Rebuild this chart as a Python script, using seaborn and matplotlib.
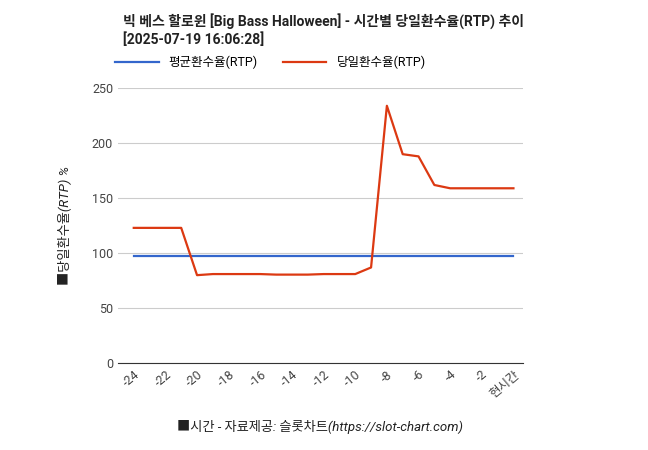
import matplotlib
matplotlib.use("Agg")
import matplotlib.pyplot as plt
import seaborn as sns
import pandas as pd

hours = list(range(-24, 1))
avg_rtp = [97] * 25
daily_rtp = [123, 123, 123, 123, 80, 81, 81, 81, 81, 80.5, 80.5, 80.5, 81, 81, 81, 87, 234, 190, 188, 162, 159, 159, 159, 159, 159]
xticks = [-24, -22, -20, -18, -16, -14, -12, -10, -8, -6, -4, -2, 0]
xlabels = ["-24", "-22", "-20", "-18", "-16", "-14", "-12", "-10", "-8", "-6", "-4", "-2", "현시간"]

plt.rcParams["font.family"] = ["Roboto", "Noto Sans CJK KR"]
df = pd.DataFrame({"h": hours, "avg": avg_rtp, "day": daily_rtp})
fig = plt.figure(figsize=(6.48, 4.5), dpi=100)
ax = fig.add_axes([0.182, 0.193, 0.625, 0.611])
sns.lineplot(data=df, x="h", y="avg", ax=ax, color="#3366cc", lw=1.6, label="평균환수율(RTP)")
sns.lineplot(data=df, x="h", y="day", ax=ax, color="#dc3912", lw=1.6, label="당일환수율(RTP)")
ax.set_ylim(0, 250)
ax.set_xlim(-25, 0.6)
ax.set_yticks(range(0, 251, 50))
ax.set_xticks(xticks)
ax.set_xticklabels(xlabels, rotation=40, ha="right", rotation_mode="anchor")
ax.grid(axis="y", color="#cccccc", lw=0.8)
for s in ["top", "right", "left"]:
    ax.spines[s].set_visible(False)
ax.spines["bottom"].set_color("#333333")
ax.tick_params(length=0, labelsize=9, colors="#444444")
ax.set_xlabel("■시간 - 자료제공: 슬롯차트(https://slot-chart.com)", style="italic", fontsize=9.5, color="#222222", labelpad=14)
ax.set_ylabel("■당일환수율(RTP) %", style="italic", fontsize=9.5, color="#222222", labelpad=14)
fig.text(0.19, 0.895, "빅 베스 할로윈 [Big Bass Halloween] - 시간별 당일환수율(RTP) 추이\n[2025-07-19 16:06:28]",
         fontsize=10, fontweight="bold", ha="left", va="bottom", color="#222222", linespacing=1.3)
ax.legend(loc="lower left", bbox_to_anchor=(-0.02, 1.05), ncol=2, frameon=False, fontsize=9, handlelength=3.5, borderaxespad=0)
fig.savefig("out.png", dpi=100)
